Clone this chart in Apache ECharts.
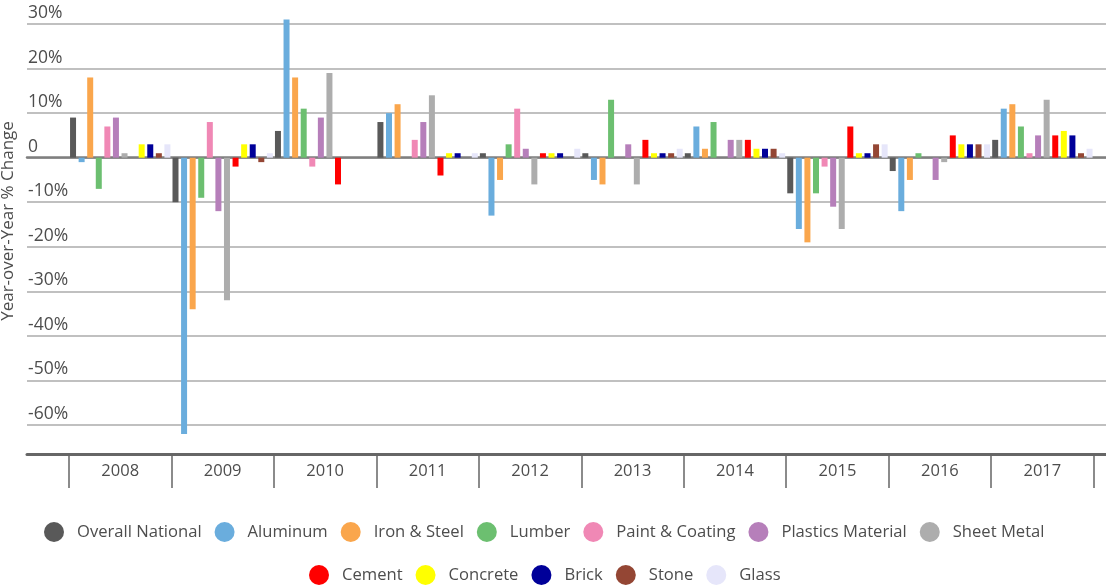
<!DOCTYPE html>
<html>
<head>
  <meta charset="utf-8">
  <title>Year-over-Year % Change</title>
  <script src="https://cdn.jsdelivr.net/npm/echarts@6/dist/echarts.min.js"></script>
  <style>
    html, body { margin: 0; padding: 0; background: #fff; }
  </style>
</head>
<body>
  <div id="main" style="width: 1106px; height: 587px;"></div>
  <script type="text/javascript">
    var years = ['2008', '2009', '2010', '2011', '2012', '2013', '2014', '2015', '2016', '2017'];

    var overall    = [9, -10, 6, 8, 1, 1, 1, -8, -3, 4];
    var aluminum   = [-1, -62, 31, 10, -13, -5, 7, -16, -12, 11];
    var ironSteel  = [18, -34, 18, 12, -5, -6, 2, -19, -5, 12];
    var lumber     = [-7, -9, 11, 0, 3, 13, 8, -8, 1, 7];
    var paint      = [7, 8, -2, 4, 11, 0, 0, -2, 0, 1];
    var plastics   = [9, -12, 9, 8, 2, 3, 4, -11, -5, 5];
    var sheetMetal = [1, -32, 19, 14, -6, -6, 4, -16, -1, 13];
    var cement     = [0, -2, -6, -4, 1, 4, 4, 7, 5, 5];
    var concrete   = [3, 3, 0, 1, 1, 1, 2, 1, 3, 6];
    var brick      = [3, 3, 0, 1, 1, 1, 2, 1, 3, 5];
    var stone      = [1, -1, 0, 0, 0, 1, 2, 3, 3, 1];
    var glass      = [3, 1, 0, 1, 2, 2, 1, 3, 3, 2];

    var names1 = ['Overall National', 'Aluminum', 'Iron & Steel', 'Lumber', 'Paint & Coating', 'Plastics Material', 'Sheet Metal'];
    var names2 = ['Cement', 'Concrete', 'Brick', 'Stone', 'Glass'];
    var seriesData = [overall, aluminum, ironSteel, lumber, paint, plastics, sheetMetal, cement, concrete, brick, stone, glass];
    var colors = ['#595959', '#6aaddd', '#faa64c', '#6cbf70', '#f088b5', '#b67fba', '#adadad',
                  '#ff0000', '#ffff00', '#000099', '#944634', '#e6e6fa'];

    var font = '"Open Sans", sans-serif';
    var textColor = '#4d4d4d';

    var myChart = echarts.init(document.getElementById('main'));

    var series = names1.concat(names2).map(function (name, i) {
      return {
        name: name,
        type: 'bar',
        xAxisIndex: 2,
        yAxisIndex: 1,
        data: seriesData[i],
        barWidth: 6,
        barGap: '43%',
        clip: false,
        itemStyle: { color: colors[i] }
      };
    });

    var legendText = { fontSize: 16.6, color: textColor, fontFamily: font, padding: [0, 0, 0, 8] };

    myChart.setOption({
      animation: false,
      color: colors,
      textStyle: { fontFamily: font },
      grid: [
        { left: 27, right: 0, top: 24, bottom: 133, outerBoundsMode: 'none' },
        { left: 69, right: 12.4, top: 24, bottom: 133, outerBoundsMode: 'none' }
      ],
      legend: [
        {
          data: names1,
          top: 517,
          left: 39,
          icon: 'circle',
          itemWidth: 20,
          itemHeight: 20,
          itemGap: 13,
          textStyle: legendText
        },
        {
          data: names2,
          top: 560,
          left: 304,
          icon: 'circle',
          itemWidth: 20,
          itemHeight: 20,
          itemGap: 13,
          textStyle: legendText
        }
      ],
      xAxis: [
        {
          // zero line
          type: 'category',
          gridIndex: 0,
          data: years,
          position: 'bottom',
          axisLine: { onZero: true, lineStyle: { color: '#7f7f7f', width: 2.5 } },
          axisTick: { show: false },
          axisLabel: { show: false },
          splitLine: { show: false }
        },
        {
          // bottom line
          type: 'category',
          gridIndex: 0,
          data: years,
          position: 'bottom',
          axisLine: { onZero: false, lineStyle: { color: '#666', width: 3 } },
          axisTick: { show: false },
          axisLabel: { show: false },
          splitLine: { show: false }
        },
        {
          type: 'category',
          gridIndex: 1,
          data: years,
          position: 'bottom',
          axisLine: { show: false, onZero: false },
          axisTick: { show: true, length: 34, lineStyle: { color: '#666', width: 1.5 } },
          axisLabel: { fontSize: 16.5, color: textColor, margin: 9, fontFamily: font }
        }
      ],
      yAxis: [
        {
          type: 'value',
          gridIndex: 0,
          min: -66.5,
          max: 30,
          splitNumber: 10,
          name: 'Year-over-Year % Change',
          nameLocation: 'middle',
          nameRotate: 90,
          nameGap: 6,
          nameTextStyle: { fontSize: 17, color: textColor, fontFamily: font, padding: [0, 0, 0, 36] },
          axisLine: { show: false },
          axisTick: { show: false },
          splitLine: { lineStyle: { color: '#c0c0c0', width: 2 } },
          axisLabel: {
            inside: true,
            verticalAlign: 'bottom',
            margin: 1,
            padding: [0, 0, 2, 0],
            fontSize: 17.5,
            color: textColor,
            fontFamily: font,
            showMinLabel: false,
            formatter: function (v) { return v === 0 ? '0' : v + '%'; }
          }
        },
        {
          type: 'value',
          gridIndex: 1,
          min: -66.5,
          max: 30,
          splitNumber: 10,
          show: false
        }
      ],
      series: series
    });
  </script>
</body>
</html>
